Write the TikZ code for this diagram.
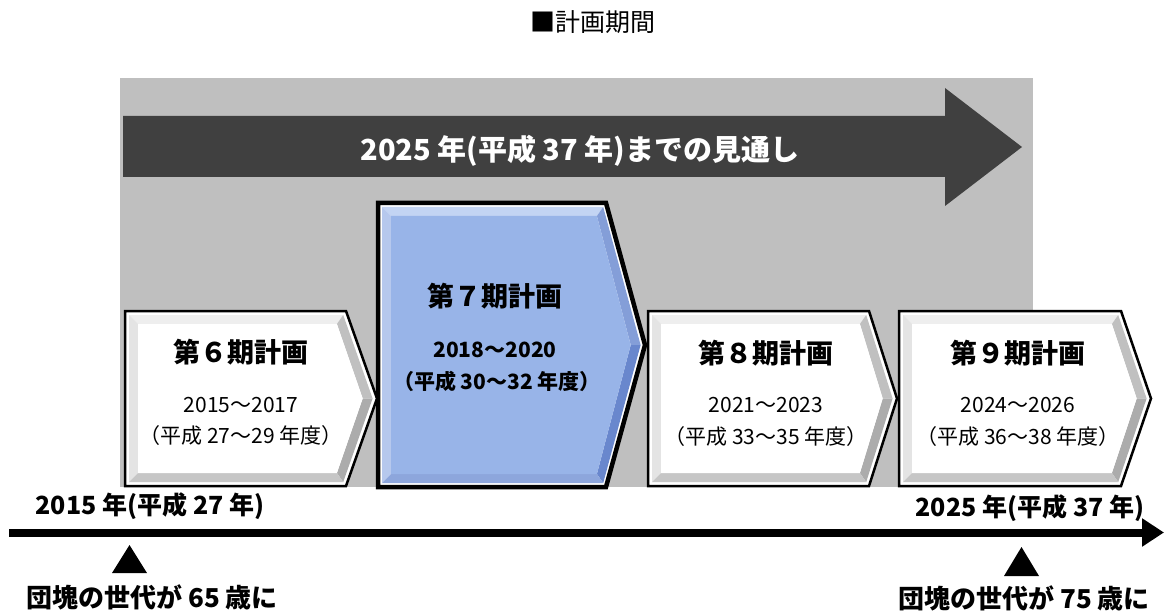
\documentclass[tikz,border=0pt]{standalone}
\usepackage{fontspec}
\setmainfont{Noto Sans CJK JP}
\usetikzlibrary{arrows.meta}
\definecolor{bggray}{RGB}{191,191,191}
\definecolor{darkarrow}{RGB}{64,64,64}
\definecolor{planblue}{RGB}{152,180,232}
\definecolor{bluelight}{RGB}{195,212,243}
\definecolor{bluedark}{RGB}{105,135,205}
\definecolor{greylight}{RGB}{238,238,238}
\definecolor{greydark}{RGB}{172,172,172}
\newcommand\bevelbox[9]{%
  \pgfmathsetmacro\bvym{(#2+#5)/2}%
  \pgfmathsetmacro\bva{4}\pgfmathsetmacro\bvb{13}%
  \pgfmathsetmacro\bvXa{#1+\bva}\pgfmathsetmacro\bvXb{#1+\bvb}%
  \pgfmathsetmacro\bvYa{#2+\bva}\pgfmathsetmacro\bvYb{#2+\bvb}%
  \pgfmathsetmacro\bvZa{#5-\bva}\pgfmathsetmacro\bvZb{#5-\bvb}%
  \pgfmathsetmacro\bvMa{#3-0.7*\bva}\pgfmathsetmacro\bvMb{#3-0.7*\bvb}%
  \pgfmathsetmacro\bvTa{#4-1.1*\bva}\pgfmathsetmacro\bvTb{#4-1.1*\bvb}%
  \fill[white] (#1,#2) -- (#3,#2) -- (#4,\bvym) -- (#3,#5) -- (#1,#5) -- cycle;
  \fill[#7] (\bvXa,\bvYa) -- (\bvMa,\bvYa) -- (\bvMb,\bvYb) -- (\bvXb,\bvYb) -- cycle;
  \fill[#7!85!#8] (\bvXa,\bvZa) -- (\bvXa,\bvYa) -- (\bvXb,\bvYb) -- (\bvXb,\bvZb) -- cycle;
  \fill[#8!70!#7] (\bvMa,\bvYa) -- (\bvTa,\bvym) -- (\bvTb,\bvym) -- (\bvMb,\bvYb) -- cycle;
  \fill[#8] (\bvTa,\bvym) -- (\bvMa,\bvZa) -- (\bvMb,\bvZb) -- (\bvTb,\bvym) -- cycle;
  \fill[#8!60!#7] (\bvMa,\bvZa) -- (\bvXa,\bvZa) -- (\bvXb,\bvZb) -- (\bvMb,\bvZb) -- cycle;
  \fill[#6] (\bvXb,\bvYb) -- (\bvMb,\bvYb) -- (\bvTb,\bvym) -- (\bvMb,\bvZb) -- (\bvXb,\bvZb) -- cycle;
  \draw[black,line width=#9,line join=miter] (#1,#2) -- (#3,#2) -- (#4,\bvym) -- (#3,#5) -- (#1,#5) -- cycle;
}
\tikzset{
  plantitle/.style={font=\fontsize{27}{30}\selectfont\bfseries, inner sep=0pt},
  planyears/.style={font=\fontsize{21}{24}\selectfont, inner sep=0pt},
  planyearsbold/.style={font=\fontsize{21}{24}\selectfont\bfseries, inner sep=0pt},
  yearlabel/.style={font=\fontsize{25}{28}\selectfont\bfseries, inner sep=0pt},
  genlabel/.style={font=\fontsize{26}{28}\selectfont\bfseries, inner sep=0pt},
}
\begin{document}
\begin{tikzpicture}[x=1pt,y=-1pt]
\useasboundingbox (0,0) rectangle (1164,612);
% title
\node[font=\fontsize{25}{28}\selectfont, inner sep=0pt] (title) at (593,22) {■計画期間};
% grey background
\fill[bggray] (120,78) rectangle (1033,487);
% big outlook arrow
\fill[darkarrow] (123,116) -- (945,116) -- (945,88) -- (1022,147) -- (945,206) -- (945,177) -- (123,177) -- cycle;
\node[font=\fontsize{29}{32}\selectfont\bfseries, text=white, inner sep=0pt] (outlook) at (580,151) {2025 年(平成 37 年)までの見通し};
% plan boxes
\bevelbox{125}{311}{346}{377}{486}{white}{greylight}{greydark}{2.5}
\bevelbox{378}{203}{606}{645}{487}{planblue}{bluelight}{bluedark}{4.5}
\bevelbox{648}{311}{869}{897}{486}{white}{greylight}{greydark}{2.5}
\bevelbox{899}{311}{1121}{1151}{486}{white}{greylight}{greydark}{2.5}
% box texts
\node[plantitle] (p6) at (241,352) {第６期計画};
\node[planyears] (p6a) at (241,405) {2015～2017};
\node[planyears] (p6b) at (241,436) {（平成 27～29 年度）};
\node[plantitle] (p7) at (495,296) {第７期計画};
\node[planyearsbold] (p7a) at (495,350) {2018～2020};
\node[planyearsbold] (p7b) at (497,381) {（平成 30～32 年度）};
\node[plantitle] (p8) at (766,353) {第８期計画};
\node[planyears] (p8a) at (766,405) {2021～2023};
\node[planyears] (p8b) at (766,437) {（平成 33～35 年度）};
\node[plantitle] (p9) at (1018,353) {第９期計画};
\node[planyears] (p9a) at (1018,405) {2024～2026};
\node[planyears] (p9b) at (1018,437) {（平成 36～38 年度）};
% timeline
\coordinate (tlstart) at (9,532.5);
\coordinate (tlend) at (1164,532.5);
\draw[line width=8pt, -{Triangle[length=22pt,width=27pt]}] (tlstart) -- (tlend);
\node[yearlabel] (y2015) at (150,506) {2015 年(平成 27 年)};
\node[yearlabel] (y2025) at (1030,508) {2025 年(平成 37 年)};
% markers
\fill (112,573) -- (147,573) -- (129.5,545) -- cycle;
\fill (1004,576) -- (1039,576) -- (1021.5,547) -- cycle;
\node[genlabel] (g65) at (152,597) {団塊の世代が 65 歳に};
\node[genlabel] (g75) at (1024,598) {団塊の世代が 75 歳に};
\end{tikzpicture}
\end{document}
